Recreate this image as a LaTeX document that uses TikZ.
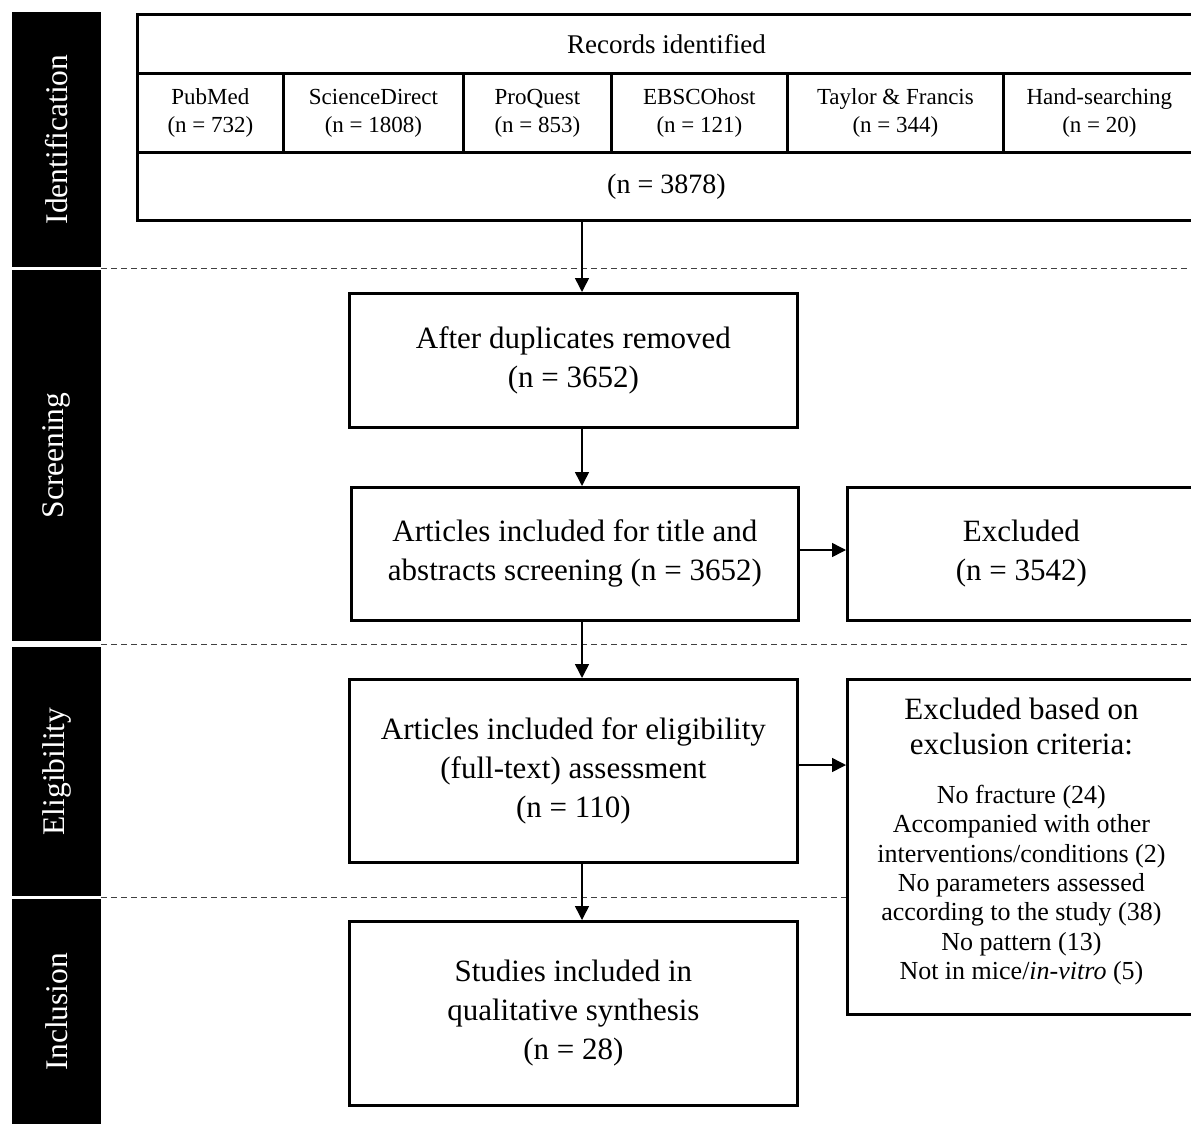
\documentclass[tikz,border=0pt]{standalone}
\usepackage{fontspec}
\setmainfont{Liberation Serif}
\usetikzlibrary{arrows.meta,calc}
\begin{document}
\begin{tikzpicture}[x=1pt,y=-1pt,
  box/.style={draw, fill=white, line width=2.8pt, rectangle, anchor=north west, inner sep=0pt, align=center},
  cell/.style={box, font=\fontsize{23}{28}\selectfont},
  mainbox/.style={box, font=\fontsize{31}{39}\selectfont},
  arr/.style={line width=1.5pt, -{Triangle[length=14pt,width=14pt]}},
  sepline/.style={dash pattern=on 6pt off 4pt, line width=1pt, black!75},
  sidebar/.style={fill=black, text=white, inner sep=0pt, rotate=90, minimum height=89, font=\fontsize{31.5}{32}\selectfont},
]
\useasboundingbox (0,0) rectangle (1191,1124);
\fill[white] (0,0) rectangle (1191,1124);
\clip (0,0) rectangle (1191,1124);

% side bars
\node[sidebar, minimum width=255] (sid) at (56.5,139.5) {Identification};
\node[sidebar, minimum width=371] (sscr) at (56.5,455.5) {Screening};
\node[sidebar, minimum width=249] (seli) at (56.5,771.5) {Eligibility};
\node[sidebar, minimum width=225] (sinc) at (56.5,1011.5) {Inclusion};

% dashed separators
\coordinate (d1a) at (101,268); \coordinate (d1b) at (1191,268);
\coordinate (d2a) at (101,644); \coordinate (d2b) at (1191,644);
\coordinate (d3a) at (101,897); \coordinate (d3b) at (1191,897);
\draw[sepline] (d1a) -- (d1b);
\draw[sepline] (d2a) -- (d2b);
\draw[sepline] (d3a) -- (d3b);

% records identified block
\node[box, minimum width=1058, minimum height=59, font=\fontsize{27}{30}\selectfont] (rec) at (136,13) {Records identified};
\node[cell, minimum width=146, minimum height=79] (pub) at (136,72) {PubMed\\(n = 732)};
\node[cell, minimum width=180, minimum height=79] (sd) at (282,72) {ScienceDirect\\(n = 1808)};
\node[cell, minimum width=148, minimum height=79] (pq) at (462,72) {ProQuest\\(n = 853)};
\node[cell, minimum width=176, minimum height=79] (eb) at (610,72) {EBSCOhost\\(n = 121)};
\node[cell, minimum width=216, minimum height=79] (tf) at (786,72) {Taylor \& Francis\\(n = 344)};
\node[cell, minimum width=192, minimum height=79] (hs) at (1002,72) {Hand-searching\\(n = 20)};
\node[box, minimum width=1058, minimum height=68, font=\fontsize{28}{30}\selectfont] (tot) at (136,151) {(n = 3878)};

% flow boxes
\node[mainbox, minimum width=448, minimum height=134] (dup) at (348,292) {After duplicates removed\\(n = 3652)};
\node[mainbox, minimum width=447, minimum height=133] (art) at (350,486) {Articles included for title and\\abstracts screening (n = 3652)};
\node[mainbox, minimum width=348, minimum height=133] (exc) at (846,486) {Excluded\\(n = 3542)};
\node[mainbox, minimum width=448, minimum height=183] (elig) at (348,678) {Articles included for eligibility\\(full-text) assessment\\(n = 110)};
\node[draw, fill=white, line width=2.8pt, rectangle, anchor=north west, inner sep=0pt, minimum width=348, minimum height=335] (excl) at (846,678)
  {\parbox{340pt}{\centering
   {\fontsize{31}{35}\selectfont Excluded based on\\exclusion criteria:\par}
   \vspace{20pt}
   {\fontsize{26}{29.3}\selectfont No fracture (24)\\Accompanied with other\\interventions/conditions (2)\\No parameters assessed\\according to the study (38)\\No pattern (13)\\Not in mice/\textit{in-vitro} (5)\par}
   \vspace{11pt}}};
\node[mainbox, minimum width=448, minimum height=184] (stud) at (348,920) {Studies included in\\qualitative synthesis\\(n = 28)};

% connectors
\coordinate (ax) at (582,0);
\coordinate (h1) at (0,550);
\coordinate (h2) at (0,765);
\draw[arr] (tot.south -| ax) -- (dup.north -| ax);
\draw[arr] (dup.south -| ax) -- (art.north -| ax);
\draw[arr] (art.south -| ax) -- (elig.north -| ax);
\draw[arr] (elig.south -| ax) -- (stud.north -| ax);
\draw[arr] (art.east |- h1) -- (exc.west |- h1);
\draw[arr] (elig.east |- h2) -- (excl.west |- h2);
\end{tikzpicture}
\end{document}
